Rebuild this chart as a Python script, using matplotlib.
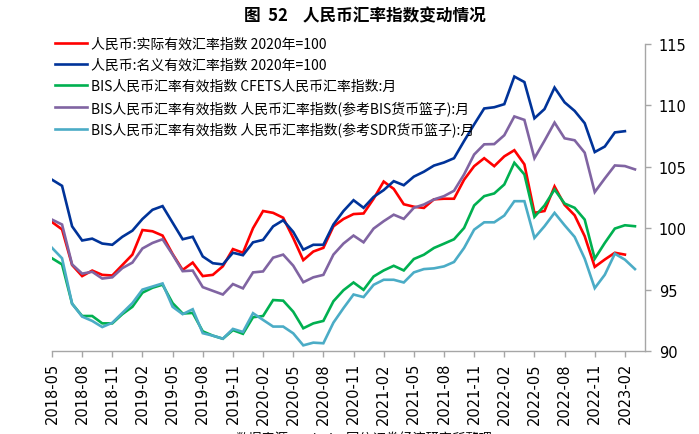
import numpy as np
import pandas as pd
import matplotlib
matplotlib.use("Agg")
import matplotlib.pyplot as plt

plt.rcParams['font.family'] = ['Noto Sans CJK SC', 'DejaVu Sans']

# monthly index values, 2018-05 .. 2023-03
months = pd.date_range("2018-05-01", "2023-03-01", freq="MS").strftime("%Y-%m").tolist()

reer = [100.5, 99.9, 97.0, 96.1, 96.55, 96.2, 96.15, 97.0, 97.85, 99.85,
        99.75, 99.4, 97.9, 96.6, 97.2, 96.1, 96.2, 96.9, 98.3, 98.0,
        100.0, 101.4, 101.25, 100.85, 99.2, 97.4, 98.1, 98.4, 100.15, 100.75,
        101.15, 101.2, 102.4, 103.8, 103.2, 101.95, 101.75, 101.65, 102.35, 102.4,
        102.4, 103.95, 105.05, 105.7, 105.05, 105.85, 106.35, 105.2, 101.25, 101.4,
        103.4, 101.9, 101.05, 99.35, 96.85, 97.45, 98.0, 97.85]

neer = [103.95, 103.45, 100.15, 99.0, 99.15, 98.75, 98.65, 99.3, 99.8, 100.75,
        101.5, 101.8, 100.45, 99.1, 99.3, 97.7, 97.15, 97.05, 98.0, 97.8,
        98.85, 99.05, 100.15, 100.65, 99.7, 98.25, 98.65, 98.65, 100.3, 101.4,
        102.28, 101.66, 102.55, 103.1, 103.83, 103.5, 104.2, 104.6, 105.1, 105.35,
        105.7, 107.1, 108.45, 109.75, 109.85, 110.1, 112.35, 111.9, 108.95, 109.7,
        111.45, 110.25, 109.55, 108.55, 106.2, 106.65, 107.8, 107.9]

cfets = [97.55, 97.05, 93.85, 92.85, 92.85, 92.25, 92.25, 93.0, 93.6, 94.75,
         95.15, 95.4, 93.9, 93.05, 93.1, 91.6, 91.25, 91.0, 91.7, 91.4,
         92.75, 92.85, 94.15, 94.1, 93.2, 91.85, 92.25, 92.45, 94.05, 94.95,
         95.58, 94.98, 96.07, 96.56, 96.94, 96.56, 97.49, 97.84, 98.39, 98.74,
         99.1, 100.02, 101.85, 102.61, 102.83, 103.56, 105.33, 104.38, 100.92, 101.85,
         103.15, 102.01, 101.66, 100.7, 97.52, 98.8, 99.97, 100.24, 100.16]

bis_basket = [100.7, 100.3, 97.05, 96.3, 96.45, 95.9, 96.0, 96.75, 97.2, 98.35,
              98.8, 99.1, 97.85, 96.5, 96.55, 95.2, 94.9, 94.6, 95.45, 95.1,
              96.4, 96.48, 97.6, 97.85, 96.95, 95.6, 96.0, 96.2, 97.85, 98.75,
              99.4, 98.85, 99.97, 100.57, 101.1, 100.76, 101.66, 101.93, 102.34, 102.61,
              103.05, 104.38, 106.0, 106.83, 106.85, 107.57, 109.1, 108.82, 105.7, 107.12,
              108.6, 107.32, 107.16, 106.15, 102.94, 104.05, 105.11, 105.06, 104.79]

sdr_basket = [98.4, 97.55, 93.85, 92.8, 92.45, 91.95, 92.3, 93.1, 93.9, 95.0,
              95.25, 95.5, 93.6, 93.0, 93.4, 91.45, 91.25, 91.0, 91.8, 91.55,
              93.08, 92.53, 91.99, 91.99, 91.44, 90.46, 90.68, 90.63, 92.31, 93.49,
              94.6, 94.39, 95.39, 95.8, 95.8, 95.58, 96.4, 96.67, 96.73, 96.89,
              97.25, 98.39, 99.88, 100.48, 100.48, 101.03, 102.2, 102.2, 99.21, 100.16,
              101.25, 100.24, 99.29, 97.52, 95.12, 96.21, 97.92, 97.44, 96.67]

series = [
    ("人民币:实际有效汇率指数 2020年=100", reer, "#FF0000"),
    ("人民币:名义有效汇率指数 2020年=100", neer, "#003399"),
    ("BIS人民币汇率有效指数 CFETS人民币汇率指数:月", cfets, "#00B050"),
    ("BIS人民币汇率有效指数 人民币汇率指数(参考BIS货币篮子):月", bis_basket, "#8064A2"),
    ("BIS人民币汇率有效指数 人民币汇率指数(参考SDR货币篮子):月", sdr_basket, "#4BACC6"),
]

fig = plt.figure(figsize=(6.99, 4.35), dpi=100)
ax = fig.add_axes([52 / 699, 83 / 435, 593 / 699, 307 / 435])

for label, vals, color in series:
    ax.plot(np.arange(len(vals)), vals, color=color, lw=1.9, label=label,
            solid_joinstyle='miter')

ax.set_xlim(0, len(months))
ax.set_ylim(90, 115)
ax.set_yticks(np.arange(90, 116, 5))
ax.yaxis.tick_right()
ax.set_xticks(np.arange(0, len(months), 3))
ax.set_xticklabels(months[::3], rotation=90, family='DejaVu Sans')
for lbl in ax.get_yticklabels():
    lbl.set_family('DejaVu Sans')

for s in ['left', 'top']:
    ax.spines[s].set_visible(False)
for s in ['right', 'bottom']:
    ax.spines[s].set_color('#A6A6A6')
    ax.spines[s].set_linewidth(1.0)
ax.tick_params(axis='both', colors='#A6A6A6', labelcolor='black', labelsize=10.5,
               length=4, width=1.0, direction='out')
ax.tick_params(axis='x', pad=4)
ax.tick_params(axis='y', pad=6)

fig.legend(loc='upper left', bbox_to_anchor=(55 / 699, 1 - 38 / 435), frameon=False,
           fontsize=10, handlelength=2.3, handletextpad=0.3, labelspacing=0.5,
           borderpad=0, borderaxespad=0)

fig.text(365 / 699, 1 - 16 / 435, "图  52    人民币汇率指数变动情况", ha='center', va='center',
         fontsize=12, fontweight='bold')
fig.text(0.52, -0.012, "数据来源：Wind，国信证券经济研究所整理", ha='center', va='center',
         fontsize=9.5)

fig.savefig("out.png", dpi=100)
